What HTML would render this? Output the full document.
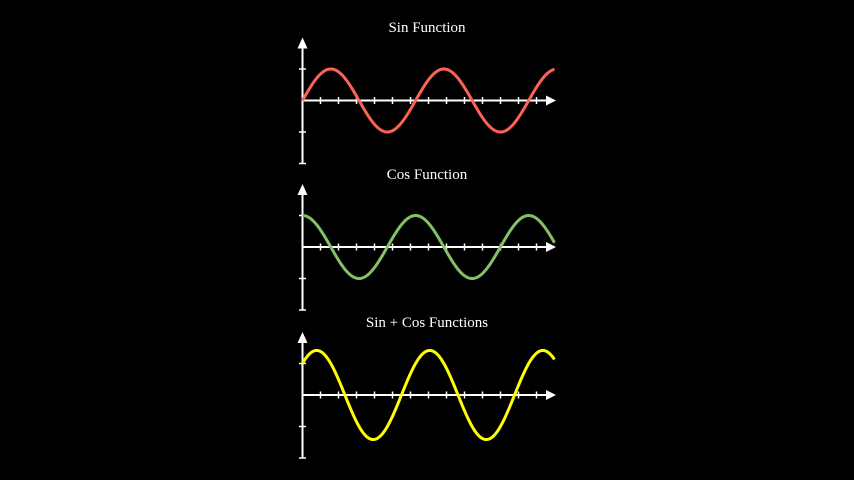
<!DOCTYPE html>
<html><head><meta charset="utf-8"><style>
html,body{margin:0;padding:0;background:#000;width:854px;height:480px;overflow:hidden}
svg{display:block}
text{font-family:"Liberation Serif",serif;fill:#fff;font-size:15px}
</style></head><body>
<svg id="chart" width="854" height="480" viewBox="0 0 854 480"></svg>
<script>
const titles = ["Sin Function", "Cos Function", "Sin + Cos Functions"];
const colors = ["#FC6255", "#83C167", "#FFFF00"];
const names = ["sin", "cos", "sin-plus-cos"];
const xDomain = [0, 14];
const xTicks = [1,2,3,4,5,6,7,8,9,10,11,12,13];
const yTicks = [-2,-1,1];
const funcs = [x=>Math.sin(x), x=>Math.cos(x), x=>Math.sin(x)+Math.cos(x)];

const NS="http://www.w3.org/2000/svg";
const svg=document.getElementById('chart');
const x0=302.5, xUnit=18, yUnit=31.5;
const axisYs=[100.5,247,395];
const titleYs=[32,179,327];
function mk(tag,attrs,parent){const e=document.createElementNS(NS,tag);for(const k in attrs)e.setAttribute(k,attrs[k]);(parent||svg).appendChild(e);return e;}
for(let i=0;i<3;i++){
  const ay=axisYs[i];
  const sx=x=>x0+x*xUnit, sy=y=>ay-y*yUnit;
  const g=mk('g',{});
  
  
  const t=mk('text',{x:427,y:titleYs[i],'text-anchor':'middle'},g);
  t.textContent=titles[i];
  
  
  const xa=mk('line',{x1:sx(0),y1:ay,x2:547,y2:ay,stroke:'#fff','stroke-width':2},g);
  
  
  mk('polygon',{points:`556,${ay} 546,${ay-5} 546,${ay+5}`,fill:'#fff'},g);
  const ya=mk('line',{x1:x0,y1:sy(-2),x2:x0,y2:ay-54,stroke:'#fff','stroke-width':2},g);
  
  
  mk('polygon',{points:`${x0},${ay-63} ${x0-5},${ay-52} ${x0+5},${ay-52}`,fill:'#fff'},g);
  xTicks.forEach(v=>mk('line',{x1:sx(v),y1:ay-3.5,x2:sx(v),y2:ay+3.5,stroke:'#fff','stroke-width':1.5},g));
  yTicks.forEach(v=>mk('line',{x1:x0-3.5,y1:sy(v),x2:x0+3.5,y2:sy(v),stroke:'#fff','stroke-width':1.5},g));
  let d='';
  const n=400;
  for(let k=0;k<=n;k++){const x=xDomain[0]+(xDomain[1]-xDomain[0])*k/n;d+=(k?'L':'M')+sx(x).toFixed(2)+','+sy(funcs[i](x)).toFixed(2);}
  const p=mk('path',{d:d,fill:'none',stroke:colors[i],'stroke-width':3,'stroke-linejoin':'round'},g);
  
  
}
</script>
</body></html>
